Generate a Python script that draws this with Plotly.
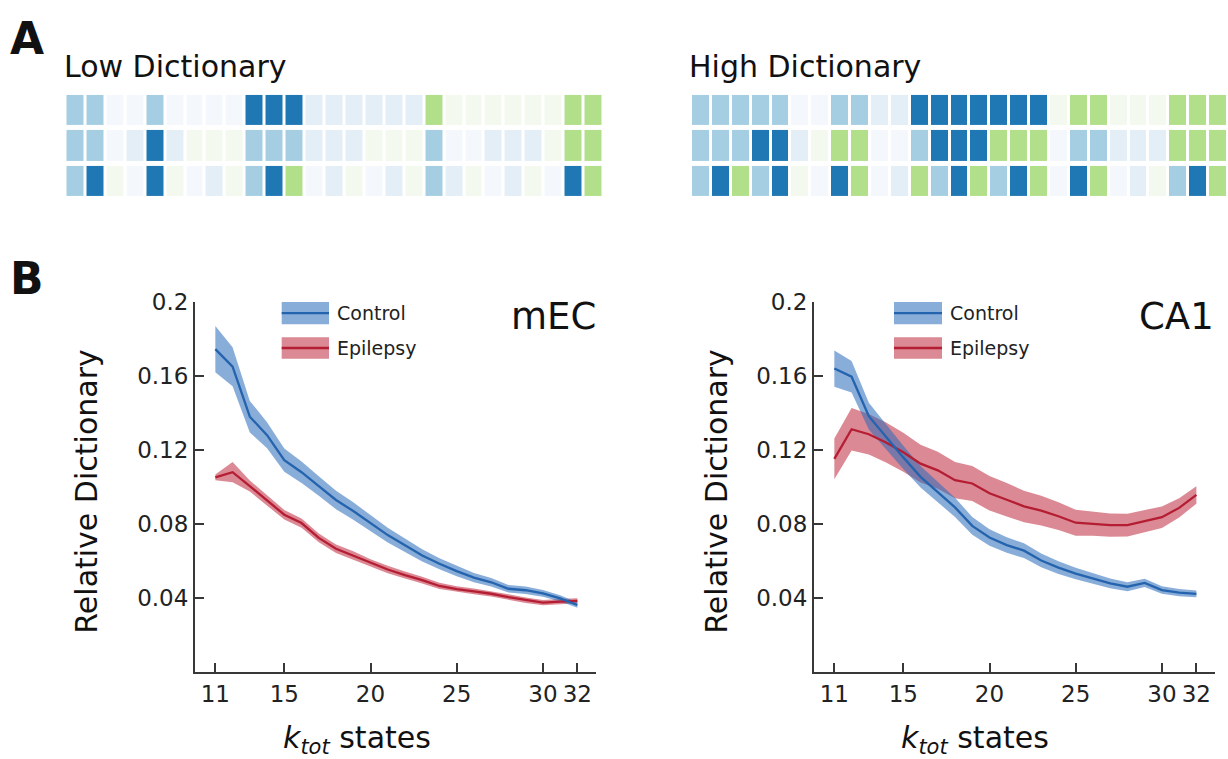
import plotly.graph_objects as go

W, H = 1228, 759

# ---------------- Panel A: state sequences ----------------
# codes: 0 faded light blue, 1 faded dark blue, 2 faded green,
#        3 light blue, 4 dark blue, 5 green
low_dict_rows = [
    [3, 3, 0, 0, 3, 0, 0, 0, 0, 4, 4, 4, 1, 1, 1, 1, 1, 1, 5, 2, 2, 2, 2, 2, 2, 5, 5],
    [3, 3, 0, 1, 4, 1, 2, 2, 2, 3, 3, 3, 1, 1, 1, 2, 2, 2, 3, 0, 0, 1, 1, 1, 2, 5, 5],
    [3, 4, 2, 0, 4, 2, 0, 1, 2, 3, 4, 5, 0, 1, 2, 0, 1, 2, 3, 1, 2, 0, 1, 2, 0, 4, 5],
]
high_dict_rows = [
    [3, 3, 3, 3, 3, 0, 0, 3, 3, 1, 1, 4, 4, 4, 4, 4, 4, 4, 2, 5, 5, 2, 2, 2, 5, 5, 5],
    [3, 3, 3, 4, 4, 1, 2, 5, 5, 0, 0, 3, 4, 4, 4, 5, 5, 5, 0, 3, 3, 1, 1, 1, 5, 5, 5],
    [3, 4, 5, 3, 4, 2, 0, 4, 5, 0, 1, 5, 3, 4, 5, 3, 4, 5, 0, 4, 5, 0, 1, 2, 3, 4, 5],
]
state_colors = ["#f4f8fc", "#e4eef7", "#f3f9ee", "#a6cee3", "#1f78b4", "#b2df8a"]

# ---------------- Panel B: relative dictionary vs k_tot ----------------
k_tot = list(range(11, 33))

mec_control = [0.1745, 0.165, 0.138, 0.128, 0.1145, 0.108, 0.1005, 0.093, 0.087, 0.0805, 0.074,
               0.0685, 0.063, 0.0585, 0.0545, 0.051, 0.0485, 0.045, 0.0442, 0.0425, 0.0398, 0.0362]
mec_control_sem = [0.0125, 0.0105, 0.0085, 0.007, 0.0063, 0.0058, 0.0053, 0.005, 0.0047, 0.0044, 0.004,
                   0.0037, 0.0033, 0.003, 0.0028, 0.0025, 0.0023, 0.002, 0.002, 0.0018, 0.0017, 0.0015]
mec_epilepsy = [0.1052, 0.108, 0.1005, 0.093, 0.085, 0.0805, 0.0725, 0.0666, 0.063, 0.059, 0.0554,
                0.0524, 0.0497, 0.0465, 0.0448, 0.0436, 0.0423, 0.0405, 0.0388, 0.0375, 0.038, 0.0385]
mec_epilepsy_sem = [0.0015, 0.0055, 0.003, 0.0028, 0.0026, 0.0025, 0.0024, 0.0023, 0.0022, 0.002, 0.002,
                    0.0019, 0.0018, 0.0017, 0.0016, 0.0016, 0.0015, 0.0015, 0.0015, 0.0014, 0.0014, 0.0014]

ca1_control = [0.164, 0.1596, 0.1383, 0.127, 0.116, 0.1055, 0.097, 0.089, 0.079, 0.0727, 0.0686,
               0.0656, 0.0603, 0.0564, 0.0532, 0.0505, 0.0479, 0.0461, 0.0482, 0.0443, 0.0429, 0.0422]
ca1_control_sem = [0.0098, 0.0085, 0.0072, 0.0068, 0.0063, 0.0058, 0.0055, 0.0052, 0.0048, 0.0045, 0.0042,
                   0.004, 0.0037, 0.0034, 0.0031, 0.0028, 0.0026, 0.0024, 0.0022, 0.002, 0.0019, 0.0018]
ca1_epilepsy = [0.1152, 0.1312, 0.1285, 0.124, 0.1188, 0.1126, 0.109, 0.1037, 0.1019, 0.0966, 0.0931,
                0.0895, 0.0872, 0.0842, 0.0807, 0.0802, 0.0794, 0.0794, 0.0816, 0.0837, 0.0887, 0.0957]
ca1_epilepsy_sem = [0.011, 0.0115, 0.011, 0.0108, 0.0105, 0.0102, 0.01, 0.0098, 0.0095, 0.0093, 0.009,
                    0.0085, 0.008, 0.0075, 0.007, 0.0065, 0.0063, 0.0062, 0.006, 0.0058, 0.0052, 0.0047]

x_ticks = [11, 15, 20, 25, 30, 32]
y_ticks = [0.04, 0.08, 0.12, 0.16, 0.2]
y_tick_text = ["0.04", "0.08", "0.12", "0.16", "0.2"]

BLUE_LINE = "#2463ad"
BLUE_FILL = "rgba(40,105,185,0.55)"
RED_LINE = "#b51d33"
RED_FILL = "rgba(190,40,60,0.55)"
FONT = "DejaVu Sans"
AXIS_COLOR = "#383838"


def px(x):
    return x / W


def py(y):
    return 1 - y / H


fig = go.Figure()

# state grids
n_states = len(state_colors)
scale = []
for i, c in enumerate(state_colors):
    scale.append([i / n_states, c])
    scale.append([(i + 1) / n_states, c])

for rows, xa, ya in [(low_dict_rows, "x", "y"), (high_dict_rows, "x2", "y2")]:
    fig.add_trace(go.Heatmap(
        z=rows, colorscale=scale, zmin=-0.5, zmax=n_states - 0.5,
        showscale=False, xgap=3, ygap=5, hoverinfo="skip",
        xaxis=xa, yaxis=ya,
    ))


def band(xa, ya, mean, sem, fill):
    upper = [m + s for m, s in zip(mean, sem)]
    lower = [m - s for m, s in zip(mean, sem)]
    fig.add_trace(go.Scatter(x=k_tot, y=upper, mode="lines", line=dict(width=0),
                             xaxis=xa, yaxis=ya, showlegend=False, hoverinfo="skip"))
    fig.add_trace(go.Scatter(x=k_tot, y=lower, mode="lines", line=dict(width=0),
                             fill="tonexty", fillcolor=fill,
                             xaxis=xa, yaxis=ya, showlegend=False, hoverinfo="skip"))


def mean_line(xa, ya, mean, color, name):
    fig.add_trace(go.Scatter(x=k_tot, y=mean, mode="lines", line=dict(color=color, width=2.3),
                             xaxis=xa, yaxis=ya, name=name, showlegend=False))


for xa, ya, ctl, ctl_s, epi, epi_s in [
    ("x3", "y3", mec_control, mec_control_sem, mec_epilepsy, mec_epilepsy_sem),
    ("x4", "y4", ca1_control, ca1_control_sem, ca1_epilepsy, ca1_epilepsy_sem),
]:
    band(xa, ya, epi, epi_s, RED_FILL)
    band(xa, ya, ctl, ctl_s, BLUE_FILL)
    mean_line(xa, ya, epi, RED_LINE, "Epilepsy")
    mean_line(xa, ya, ctl, BLUE_LINE, "Control")

hidden = dict(visible=False, showgrid=False, zeroline=False, fixedrange=True)

line_x = dict(range=[9.82, 33.08], tickvals=x_ticks, ticks="inside", ticklen=9, tickwidth=2,
              tickcolor=AXIS_COLOR, showline=True, linecolor=AXIS_COLOR, linewidth=2,
              showgrid=False, zeroline=False, tickfont=dict(family=FONT, size=23, color="#222"))
line_y = dict(range=[0, 0.2], tickvals=y_ticks, ticktext=y_tick_text, ticks="inside", ticklen=9,
              tickwidth=2, tickcolor=AXIS_COLOR, showline=True, linecolor=AXIS_COLOR, linewidth=2,
              showgrid=False, zeroline=False, tickfont=dict(family=FONT, size=23, color="#222"))

y_dom = [py(670.5), py(294)]

fig.update_layout(
    width=W, height=H, margin=dict(l=0, r=0, t=0, b=0),
    paper_bgcolor="white", plot_bgcolor="rgba(0,0,0,0)",
    showlegend=False,
    xaxis=dict(domain=[px(65.5), px(603.5)], range=[-0.5, 26.5], **hidden),
    yaxis=dict(domain=[py(189), py(81.3)], range=[2.5, -0.5], **hidden),
    xaxis2=dict(domain=[px(691), 1.0], range=[-0.5, 26.5], **hidden),
    yaxis2=dict(domain=[py(189), py(81.3)], range=[2.5, -0.5], **hidden),
    xaxis3=dict(domain=[px(195), px(596)], anchor="y3", **line_x),
    yaxis3=dict(domain=y_dom, anchor="x3", **line_y),
    xaxis4=dict(domain=[px(814), px(1215)], anchor="y4", **line_x),
    yaxis4=dict(domain=y_dom, anchor="x4", **line_y),
)

annotations = []
shapes = []


def text(x, y, s, size, xanchor="left", yanchor="middle", bold=False, angle=0, color="#111"):
    annotations.append(dict(
        x=px(x), y=py(y), xref="paper", yref="paper", text=f"<b>{s}</b>" if bold else s,
        showarrow=False, xanchor=xanchor, yanchor=yanchor, textangle=angle,
        font=dict(family=FONT, size=size, color=color),
    ))


# panel letters and grid titles
text(8, 26, "A", 44, bold=True)
text(8, 270, "B", 44, bold=True)
text(62, 54, "Low Dictionary", 30)
text(687, 54, "High Dictionary", 30)

# axis titles and region labels
for y_title_x, x_title_x, region, region_x in [(87, 357, "mEC", 598), (717, 975, "CA1", 1216)]:
    text(y_title_x, 487, "Relative Dictionary", 30, xanchor="center", angle=-90)
    text(x_title_x, 739, "<i>k<sub>tot</sub></i> states", 30, xanchor="center")
    text(region_x, 309, region, 37, xanchor="right")

# legends
for patch_x0, patch_x1, label_x in [(281.7, 329, 335), (894, 942, 948)]:
    for (y0, y1), fill, color, label in [((294, 316.7), BLUE_FILL, BLUE_LINE, "Control"),
                                         ((330, 351.7), RED_FILL, RED_LINE, "Epilepsy")]:
        shapes.append(dict(type="rect", xref="paper", yref="paper",
                           x0=px(patch_x0), x1=px(patch_x1), y0=py(y1), y1=py(y0),
                           fillcolor=fill, line=dict(width=0)))
        yc = (y0 + y1) / 2
        shapes.append(dict(type="line", xref="paper", yref="paper",
                           x0=px(patch_x0), x1=px(patch_x1), y0=py(yc), y1=py(yc),
                           line=dict(color=color, width=2.3)))
        text(label_x, yc, label, 19, color="#222")

fig.update_layout(annotations=annotations, shapes=shapes)

fig.write_html("out.html")
